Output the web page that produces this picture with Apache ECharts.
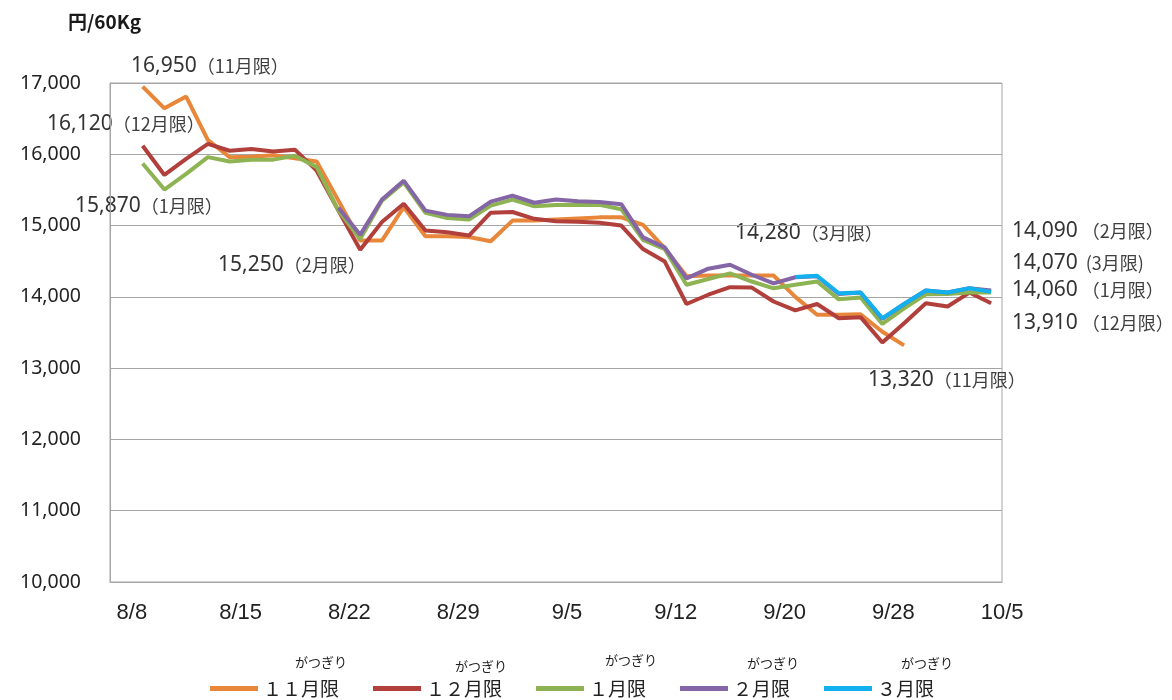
<!DOCTYPE html>
<html>
<head>
<meta charset="utf-8">
<script src="https://cdn.jsdelivr.net/npm/echarts@6/dist/echarts.min.js"></script>
<style>
html,body{margin:0;padding:0;background:#fff;}
#chart{width:1172px;height:700px;}
</style>
</head>
<body>
<div id="chart"></div>
<script>
// Trading days (Aug 8 – Oct 5)
const categories = ['8/8','8/9','8/10','8/11','8/12','8/15','8/16','8/17','8/18','8/19',
  '8/22','8/23','8/24','8/25','8/26','8/29','8/30','8/31','9/1','9/2',
  '9/5','9/6','9/7','9/8','9/9','9/12','9/13','9/14','9/15','9/16',
  '9/20','9/21','9/22','9/26','9/27','9/28','9/29','9/30','10/3','10/4','10/5'];
const shownLabels = ['8/8','8/15','8/22','8/29','9/5','9/12','9/20','9/28','10/5'];

const seriesNames = ['１１月限','１２月限','１月限','２月限','３月限'];

const nov = [null,16950,16645,16810,16200,15960,15965,15985,15945,15900,
  15350,14790,14790,15260,14850,14850,14840,14780,15070,15070,
  15085,15100,15115,15115,15010,14680,14290,14300,14300,14300,
  14300,14000,13750,13750,13755,13510,13320,null,null,null,null];
const dec = [null,16120,15710,15935,16145,16050,16075,16040,16065,15770,
  15210,14660,15050,15305,14930,14905,14860,15180,15190,15095,
  15060,15055,15040,15000,14670,14495,13900,14030,14135,14130,
  13935,13810,13900,13700,13715,13360,13630,13910,13865,14060,13910];
const jan = [null,15870,15505,15725,15960,15900,15925,15925,15980,15820,
  15210,14810,15350,15605,15180,15105,15085,15280,15365,15270,
  15290,15290,15290,15230,14800,14670,14170,14250,14330,14215,
  14120,14170,14215,13965,13990,13620,13840,14035,14040,14060,14060];
const feb = [null,null,null,null,null,null,null,null,null,null,
  15250,14870,15365,15630,15210,15150,15130,15335,15420,15320,
  15365,15340,15330,15300,14835,14695,14260,14395,14450,14310,
  14190,14275,14290,14040,14060,13690,13900,14090,14060,14120,14090];
const mar = [null,null,null,null,null,null,null,null,null,null,
  null,null,null,null,null,null,null,null,null,null,
  null,null,null,null,null,null,null,null,null,null,
  null,14280,14295,14050,14060,13700,13900,14090,14060,14120,14070];

const yTicks = {min:10000, max:17000, interval:1000};

// Annotation texts
const annotations = [
  {num:'16,950', tag:'（11月限）', x:131, y:66},
  {num:'16,120', tag:'（12月限）', x:47,  y:124},
  {num:'15,870', tag:'（1月限）',  x:75,  y:206},
  {num:'15,250', tag:'（2月限）',  x:218, y:265},
  {num:'14,280', tag:'（3月限）',  x:735, y:233},
  {num:'14,090', tag:' （2月限）', x:1012, y:231},
  {num:'14,070', tag:'  (3月限)',  x:1012, y:263},
  {num:'14,060', tag:' （1月限）', x:1012, y:290},
  {num:'13,910', tag:' （12月限）',x:1012, y:323},
  {num:'13,320', tag:'（11月限）', x:868, y:380}
];
const furigana = [
  {t:'がつぎり', x:321, y:662},
  {t:'がつぎり', x:481, y:666},
  {t:'がつぎり', x:631, y:660},
  {t:'がつぎり', x:773, y:663},
  {t:'がつぎり', x:927, y:663}
];

const colors = ['#E8863A','#B13F3B','#8DB352','#8466A6','#12B0EE'];
const allData = [nov, dec, jan, feb, mar];

const numFont = '"Noto Sans", sans-serif';
const cjkFont = '"Noto Sans CJK JP"';

const chart = echarts.init(document.getElementById('chart'), null, {renderer:'canvas'});

const graphics = [];
graphics.push({
  type:'text', left:68, top:12,
  style:{text:'円/60Kg', font:'bold 19px "Noto Sans CJK JP"', fill:'#1a1a1a'}
});
annotations.forEach(a => {
  graphics.push({
    type:'text', x:a.x, y:a.y,
    style:{
      text:'{n|' + a.num + '}{p|' + a.tag + '}',
      verticalAlign:'middle',
      rich:{
        n:{fontFamily:numFont, fontSize:21, fill:'#333333', color:'#333333'},
        p:{fontFamily:cjkFont, fontSize:18, fill:'#404040', color:'#404040'}
      }
    }
  });
});
furigana.forEach(f => {
  graphics.push({
    type:'text', x:f.x, y:f.y,
    style:{text:f.t, font:'13px "Noto Sans CJK JP"', fill:'#222', align:'center', verticalAlign:'middle'}
  });
});

const option = {
  animation:false,
  backgroundColor:'#ffffff',
  color: colors,
  grid:{left:110, right:170, top:83, bottom:118, show:true, borderColor:'#a6a6a6', borderWidth:1},
  legend:{
    left:205, top:674,
    icon:'rect', itemWidth:48, itemHeight:5, itemGap:34,
    textStyle:{fontFamily:cjkFont, fontSize:19, color:'#222'},
    data: seriesNames
  },
  xAxis:{
    type:'category',
    data: categories,
    boundaryGap:true,
    axisTick:{show:false},
    axisLine:{lineStyle:{color:'#a6a6a6'}},
    axisLabel:{
      interval:(idx, val) => shownLabels.indexOf(val) >= 0,
      margin:20,
      padding:[0,0,0,22],
      fontFamily:'"Liberation Sans Narrow","Liberation Sans",sans-serif',
      fontSize:22,
      color:'#222'
    },
    splitLine:{show:false}
  },
  yAxis:{
    type:'value',
    min:yTicks.min, max:yTicks.max, interval:yTicks.interval,
    axisLine:{show:true, lineStyle:{color:'#a6a6a6'}},
    axisTick:{show:false},
    splitLine:{lineStyle:{color:'#a6a6a6', width:1}},
    axisLabel:{
      margin:29,
      fontFamily:numFont, fontSize:19.5, color:'#222',
      formatter:v => v.toLocaleString('en-US')
    }
  },
  series: seriesNames.map((n, k) => ({
    name:n, type:'line', data: allData[k],
    showSymbol:false, symbol:'none', connectNulls:false,
    lineStyle:{width:4, color:colors[k]},
    itemStyle:{color:colors[k]},
    z: 2 + k
  })),
  graphic: graphics
};
chart.setOption(option);
</script>
</body>
</html>
